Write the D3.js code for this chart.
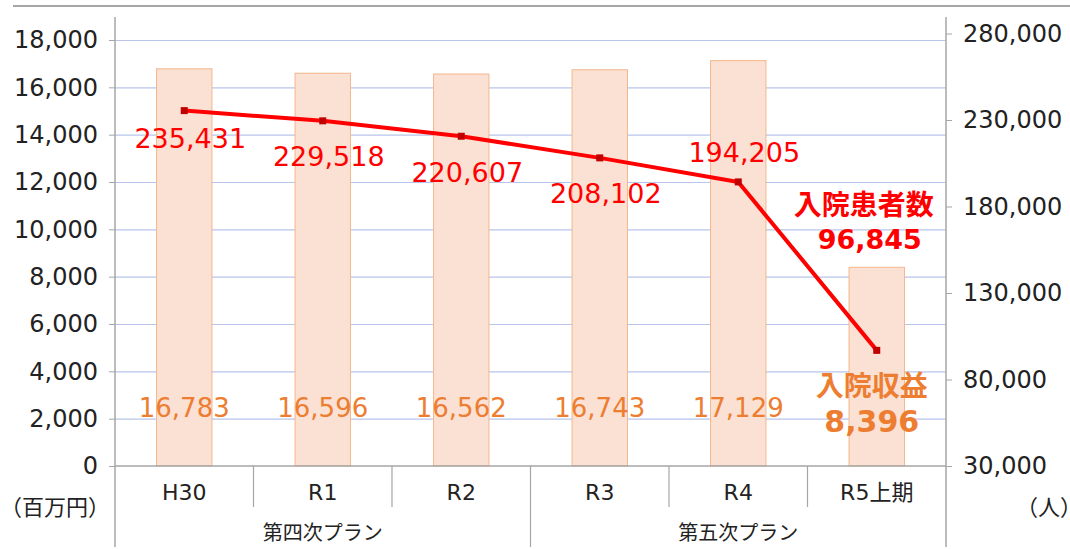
<!DOCTYPE html>
<html lang="ja">
<head>
<meta charset="utf-8">
<script src="https://cdn.jsdelivr.net/npm/d3@7"></script>
<style>
  html, body { margin: 0; padding: 0; background: #fff; }
  svg { display: block; font-family: "DejaVu Sans", "Noto Sans CJK JP", sans-serif; }
</style>
</head>
<body>
<div id="chart"></div>
<script>
// データ
const categories = ["H30", "R1", "R2", "R3", "R4", "R5上期"];
const plans = [
  { name: "第四次プラン", from: "H30", to: "R2" },
  { name: "第五次プラン", from: "R3", to: "R5上期" }
];
const revenue = [16783, 16596, 16562, 16743, 17129, 8396];      // 入院収益（百万円）
const patients = [235431, 229518, 220607, 208102, 194205, 96845]; // 入院患者数（人）
const leftTicks = [0, 2000, 4000, 6000, 8000, 10000, 12000, 14000, 16000, 18000];
const rightTicks = [30000, 80000, 130000, 180000, 230000, 280000];

(() => {
  const width = 1070, height = 549;
  const left = 115, right = 946, bottom = 466;

  const svg = d3.select("#chart").append("svg")
    .attr("width", width).attr("height", height);

  const fmt = d3.format(",");

  const x = d3.scaleBand()
    .domain(categories)
    .range([left, right])
    .paddingInner(0.6)
    .paddingOuter(0.3);
  const cx = c => x(c) + x.bandwidth() / 2;

  const yL = d3.scaleLinear().domain([0, 18000]).range([bottom, 40]);
  const yR = d3.scaleLinear().domain([30000, 280000]).range([bottom, 33.5]);

  // 上の区切り線
  svg.append("line")
    .attr("x1", 13).attr("x2", width).attr("y1", 6).attr("y2", 6)
    .attr("stroke", "#a6a6a6").attr("stroke-width", 2);

  // grid
  svg.append("g")
    .attr("transform", `translate(${left},0)`)
    .call(d3.axisLeft(yL).tickValues(leftTicks.filter(t => t > 0)).tickSize(-(right - left)).tickFormat(""))
    .call(g => g.select(".domain").remove())
    .call(g => g.selectAll("line").attr("stroke", "#b8c4ea").attr("stroke-width", 1.2));

  // bars
  svg.append("g").selectAll("rect")
    .data(categories)
    .join("rect")
    .attr("x", c => x(c))
    .attr("width", x.bandwidth())
    .attr("y", (c, i) => yL(revenue[i]))
    .attr("height", (c, i) => yL(0) - yL(revenue[i]))
    .attr("fill", "#fbe1d3")
    .attr("stroke", "#f4b68c")
    .attr("stroke-width", 1);

  // left axis
  svg.append("g")
    .attr("transform", `translate(${left},0)`)
    .call(d3.axisLeft(yL).tickValues(leftTicks).tickSize(6).tickPadding(11).tickFormat(fmt))
    .call(g => g.select(".domain").remove())
    .call(g => g.selectAll("line").attr("stroke", "#a6a6a6"))
    .call(g => g.selectAll("text").attr("font-size", 24).attr("fill", "#222").attr("font-family", "DejaVu Sans"));

  // right axis
  svg.append("g")
    .attr("transform", `translate(${right},0)`)
    .call(d3.axisRight(yR).tickValues(rightTicks).tickSize(6).tickPadding(11).tickFormat(fmt))
    .call(g => g.select(".domain").remove())
    .call(g => g.selectAll("line").attr("stroke", "#a6a6a6"))
    .call(g => g.selectAll("text").attr("font-size", 24).attr("fill", "#222").attr("font-family", "DejaVu Sans"));

  // axis lines
  const axisCol = "#a6a6a6";
  svg.append("line").attr("x1", left).attr("x2", left).attr("y1", 17).attr("y2", 547)
    .attr("stroke", axisCol).attr("stroke-width", 1.5);
  svg.append("line").attr("x1", right).attr("x2", right).attr("y1", 17).attr("y2", 547)
    .attr("stroke", axisCol).attr("stroke-width", 1.5);
  svg.append("line").attr("x1", left).attr("x2", right).attr("y1", bottom).attr("y2", bottom)
    .attr("stroke", axisCol).attr("stroke-width", 1.5);

  // category separators
  const step = x.step();
  const sepG = svg.append("g");
  categories.slice(1).forEach(c => {
    const sx = x(c) - x.paddingInner() * step / 2;
    const isGroup = plans.some(p => p.from === c);
    sepG.append("line")
      .attr("x1", sx).attr("x2", sx)
      .attr("y1", bottom).attr("y2", isGroup ? 547 : 507)
      .attr("stroke", axisCol).attr("stroke-width", 1.2);
  });

  // category labels
  svg.append("g").selectAll("text")
    .data(categories)
    .join("text")
    .attr("x", c => cx(c))
    .attr("y", 492)
    .attr("dy", "0.35em")
    .attr("text-anchor", "middle")
    .attr("font-size", 22)
    .attr("fill", "#222")
    .text(c => c);

  // plan labels
  svg.append("g").selectAll("text")
    .data(plans)
    .join("text")
    .attr("x", p => (cx(p.from) + cx(p.to)) / 2)
    .attr("y", 533)
    .attr("dy", "0.35em")
    .attr("text-anchor", "middle")
    .attr("font-size", 20)
    .attr("font-family", "Noto Sans CJK JP")
    .attr("fill", "#222")
    .text(p => p.name);

  // unit labels
  svg.append("text")
    .attr("x", 0).attr("y", 507).attr("dy", "0.35em")
    .attr("font-size", 22).attr("font-family", "Noto Sans CJK JP").attr("fill", "#222")
    .text("（百万円）");
  svg.append("text")
    .attr("x", 1016).attr("y", 507).attr("dy", "0.35em")
    .attr("font-size", 22).attr("font-family", "Noto Sans CJK JP").attr("fill", "#222")
    .text("（人）");

  // revenue labels (inside base)
  svg.append("g").selectAll("text")
    .data(categories.slice(0, -1))
    .join("text")
    .attr("x", c => cx(c))
    .attr("y", 408)
    .attr("dy", "0.35em")
    .attr("text-anchor", "middle")
    .attr("font-size", 26)
    .attr("fill", "#ed7d31")
    .text((c, i) => fmt(revenue[i]));

  // patients line
  const pts = categories.map((c, i) => [cx(c), yR(patients[i])]);
  svg.append("path")
    .attr("d", d3.line()(pts))
    .attr("fill", "none")
    .attr("stroke", "#ff0000")
    .attr("stroke-width", 4)
    .attr("stroke-linejoin", "round");

  svg.append("g").selectAll("rect")
    .data(pts)
    .join("rect")
    .attr("x", d => d[0] - 3.5)
    .attr("y", d => d[1] - 3.5)
    .attr("width", 7).attr("height", 7)
    .attr("fill", "#c00000");

  // patients labels
  const lastFull = categories.length - 2;
  svg.append("g").selectAll("text")
    .data(categories.slice(0, -1))
    .join("text")
    .attr("x", (c, i) => cx(c) + 6)
    .attr("y", (c, i) => yR(patients[i]) + (i === lastFull ? -29 : (i === 0 ? 28 : 36)))
    .attr("dy", "0.35em")
    .attr("text-anchor", "middle")
    .attr("font-size", 27)
    .attr("fill", "#ff0000")
    .text((c, i) => fmt(patients[i]));

  // callouts
  const last = categories.length - 1;
  const callX = cx(categories[last]);
  svg.append("text")
    .attr("x", callX - 13).attr("y", 205).attr("dy", "0.35em")
    .attr("text-anchor", "middle").attr("font-size", 28).attr("font-weight", "bold")
    .attr("font-family", "Noto Sans CJK JP").attr("fill", "#ff0000")
    .text("入院患者数");
  svg.append("text")
    .attr("x", callX - 7).attr("y", 240).attr("dy", "0.35em")
    .attr("text-anchor", "middle").attr("font-size", 27).attr("font-weight", "bold")
    .attr("fill", "#ff0000")
    .text(fmt(patients[last]));
  svg.append("text")
    .attr("x", callX - 5).attr("y", 386).attr("dy", "0.35em")
    .attr("text-anchor", "middle").attr("font-size", 28).attr("font-weight", "bold")
    .attr("font-family", "Noto Sans CJK JP").attr("fill", "#ed7d31")
    .text("入院収益");
  svg.append("text")
    .attr("x", callX - 5).attr("y", 421).attr("dy", "0.35em")
    .attr("text-anchor", "middle").attr("font-size", 30).attr("font-weight", "bold")
    .attr("fill", "#ed7d31")
    .text(fmt(revenue[last]));
})();
</script>
</body>
</html>
